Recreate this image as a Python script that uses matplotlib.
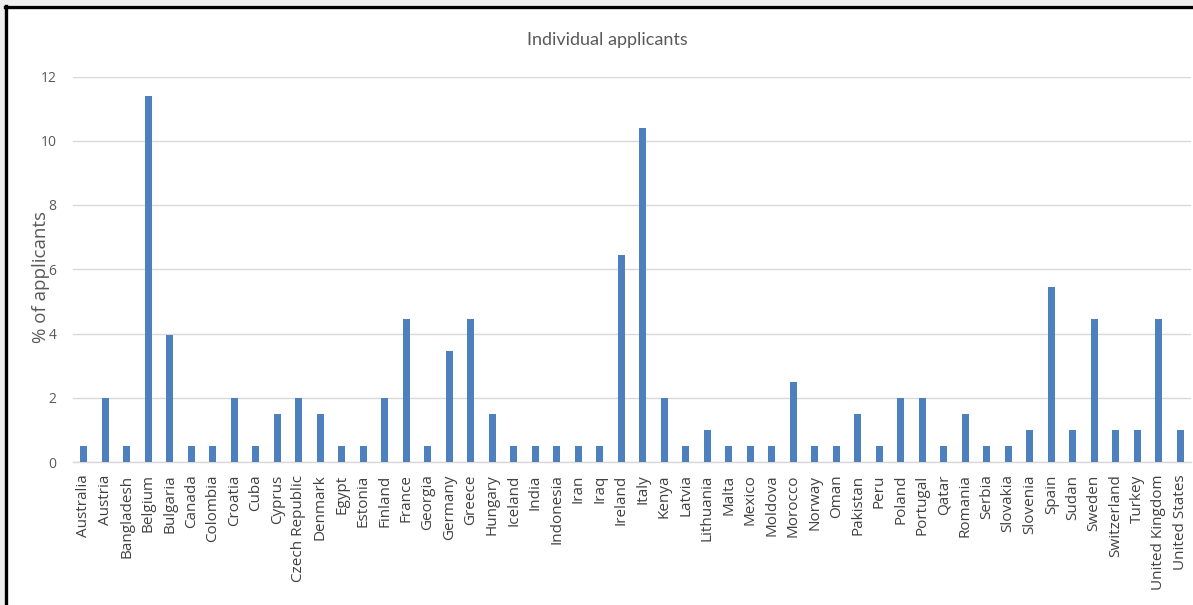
import matplotlib
matplotlib.use("Agg")
import matplotlib.pyplot as plt
from matplotlib.patches import Rectangle
from matplotlib.lines import Line2D

countries = ["Australia", "Austria", "Bangladesh", "Belgium", "Bulgaria", "Canada",
             "Colombia", "Croatia", "Cuba", "Cyprus", "Czech Republic", "Denmark",
             "Egypt", "Estonia", "Finland", "France", "Georgia", "Germany", "Greece",
             "Hungary", "Iceland", "India", "Indonesia", "Iran", "Iraq", "Ireland",
             "Italy", "Kenya", "Latvia", "Lithuania", "Malta", "Mexico", "Moldova",
             "Morocco", "Norway", "Oman", "Pakistan", "Peru", "Poland", "Portugal",
             "Qatar", "Romania", "Serbia", "Slovakia", "Slovenia", "Spain", "Sudan",
             "Sweden", "Switzerland", "Turkey", "United Kingdom", "United States"]
percent = [0.5, 1.98, 0.5, 11.39, 3.96, 0.5,
           0.5, 1.98, 0.5, 1.49, 1.98, 1.49,
           0.5, 0.5, 1.98, 4.46, 0.5, 3.47, 4.46,
           1.49, 0.5, 0.5, 0.5, 0.5, 0.5, 6.44,
           10.4, 1.98, 0.5, 0.99, 0.5, 0.5, 0.5,
           2.48, 0.5, 0.5, 1.49, 0.5, 1.98, 1.98,
           0.5, 1.49, 0.5, 0.5, 0.99, 5.45, 0.99,
           4.46, 0.99, 0.99, 4.46, 0.99]
yticks = [0, 2, 4, 6, 8, 10, 12]

W, H = 1193, 605
fig = plt.figure(figsize=(W / 100, H / 100), dpi=100)
fig.patch.set_facecolor("white")

ax = fig.add_axes([73 / W, (H - 462) / H, (1191 - 73) / W, (462 - 76.5) / H])
x = list(range(len(countries)))
ax.bar(x, percent, width=0.33, color="#4F80BE", zorder=3)
ax.set_xlim(-0.5, len(countries) - 0.5)
ax.set_ylim(0, 12)
ax.set_yticks(yticks)
ax.set_yticklabels([str(t) for t in yticks], fontsize=10, color="#595959",
                   family="Open Sans")
ax.set_xticks(x)
ax.set_xticklabels(countries, rotation=90, fontsize=11, color="#404040",
                   family="Open Sans")
ax.tick_params(axis="both", length=0)
ax.tick_params(axis="y", pad=12)
ax.tick_params(axis="x", pad=9)
ax.grid(axis="y", color="#D9D9D9", linewidth=1, zorder=0)
for s in ["top", "right", "left"]:
    ax.spines[s].set_visible(False)
ax.spines["bottom"].set_color("#D9D9D9")
ax.spines["bottom"].set_linewidth(1)

fig.text(607 / W, 1 - 40 / H, "Individual applicants", ha="center", va="center",
         fontsize=13, color="#595959", family="Lato")
fig.text(41 / W, 1 - 277 / H, "% of applicants", ha="center", va="center",
         rotation=90, fontsize=13.5, color="#595959", family="Open Sans")

# outer frame like the screenshot
fig.add_artist(Rectangle((0, 1 - 5 / H), 1, 5 / H, transform=fig.transFigure,
                         facecolor="#EFEFEF", edgecolor="none"))
fig.add_artist(Rectangle((0, 0), 5 / W, 1, transform=fig.transFigure,
                         facecolor="#EFEFEF", edgecolor="none"))
fig.add_artist(Line2D([5.5 / W, 1], [1 - 7 / H, 1 - 7 / H], transform=fig.transFigure,
                      color="black", linewidth=2.4))
fig.add_artist(Line2D([6.5 / W, 6.5 / W], [0, 1 - 6 / H], transform=fig.transFigure,
                      color="black", linewidth=2.4))

fig.savefig("out.png", dpi=100)
